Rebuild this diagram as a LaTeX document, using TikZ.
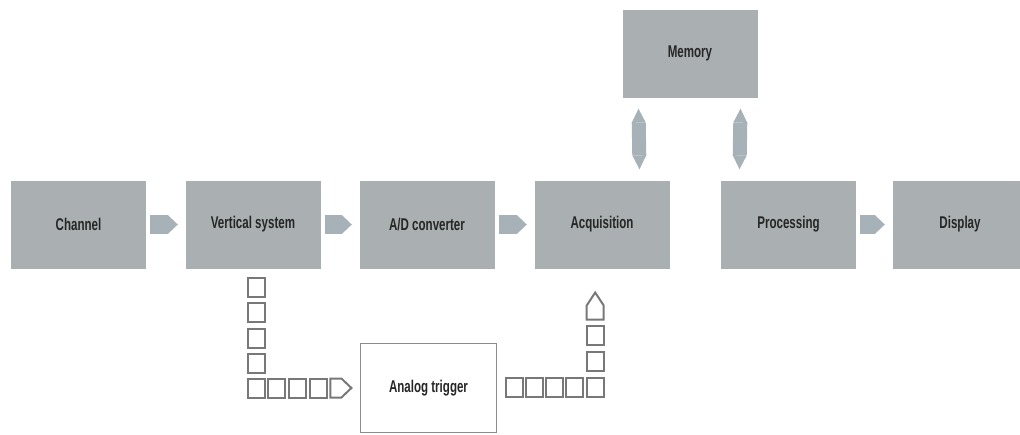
\documentclass[tikz,border=0pt]{standalone}
\usepackage{fontspec}
\setmainfont{Liberation Sans}[FakeStretch=0.68]
\usetikzlibrary{calc,arrows.meta}
\definecolor{boxgray}{RGB}{170,176,178}
\definecolor{arrowgray}{RGB}{166,178,184}
\definecolor{cellgray}{RGB}{120,120,120}
\definecolor{labelgray}{RGB}{38,38,38}

\begin{document}
\begin{tikzpicture}[x=1pt,y=-1pt,
  block/.style={rectangle,fill=boxgray,minimum width=135pt,minimum height=88pt,inner sep=0pt,
    font=\fontsize{17}{19}\selectfont\bfseries,text=labelgray},
  flow/.style={draw=arrowgray,line width=19pt,-{Triangle[length=10pt,width=19pt,line width=0pt]},
    shorten <=4pt,shorten >=7.5pt},
  memflow/.style={draw=arrowgray,line width=14pt,<->,>={Triangle[length=14pt,width=14pt,line width=0pt]},
    shorten <=11pt,shorten >=11pt},
  cell/.style={rectangle,draw=cellgray,line width=2pt,minimum width=17pt,minimum height=19pt,
    inner sep=0pt,outer sep=0pt},
  cellline/.style={draw=cellgray,line width=2pt,line join=miter}]

\useasboundingbox (0,0) rectangle (1020,434);
\clip (0,0) rectangle (1020,434);

\draw node [block] (channel) at (78.5,224.5) {Channel};
\draw node [block] (vertical) at (253,224.5) {Vertical system};
\draw node [block] (adc) at (427,224.5) {A/D converter};
\draw node [block] (acq) at (602,224.5) {Acquisition};
\draw node [block] (proc) at (788.5,224.5) {Processing};
\draw node [block] (disp) at (960,224.5) {Display};
\draw node [block] (mem) at (690,53.5) {Memory};

\draw node [rectangle,draw=cellgray!85,line width=1.6pt,minimum width=136pt,minimum height=89pt,
  font=\fontsize{17}{19}\selectfont\bfseries,text=labelgray] (trigger) at (428.5,388) {Analog trigger};

\draw[flow] (channel.east) -- (vertical.west);
\draw[flow] (vertical.east) -- (adc.west);
\draw[flow] (adc.east) -- (acq.west);
\draw[flow] (proc.east) -- (disp.west);

\draw[memflow] ([xshift=-30pt]acq.north east) -- ([xshift=16pt]mem.south west);
\draw[memflow] ([xshift=18.5pt]proc.north west) -- ([xshift=-17pt]mem.south east);

\foreach \y [count=\i] in {287,312.5,338,363}
  \node [cell] (lv\i) at (256,\y) {};
\foreach \x [count=\i] in {256,276.8,297.6,318.4}
  \node [cell] (lh\i) at (\x,388) {};
\draw[cellline] ($ (lh4.north east)+(3.5,0) $) -- ++(11,0) -- ++(10,9.5) -- ++(-10,9.5) -- ++(-11,0) -- cycle;

\foreach \x [count=\i] in {514,534.3,554.6,574.9,595.2}
  \node [cell] (rh\i) at (\x,387) {};
\foreach \y [count=\i] in {361,335}
  \node [cell] (rv\i) at (595.2,\y) {};
\draw[cellline] ($ (rv2.north west)+(0,-6) $) -- ++(0,-14) -- ++(8.5,-13) -- ++(8.5,13) -- ++(0,14) -- cycle;

\end{tikzpicture}
\end{document}
